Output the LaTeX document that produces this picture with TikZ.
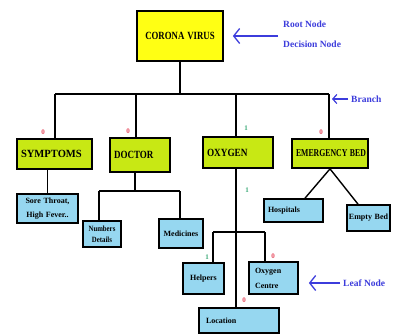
\documentclass[tikz,border=0pt]{standalone}
\usepackage{fontspec}
\setmainfont{Liberation Serif}
\usetikzlibrary{arrows.meta}
\definecolor{rootfill}{RGB}{255,255,20}
\definecolor{lvfill}{RGB}{200,232,20}
\definecolor{leaffill}{RGB}{150,215,240}
\definecolor{annblue}{RGB}{60,60,220}
\definecolor{zred}{RGB}{230,70,90}
\definecolor{ogreen}{RGB}{60,170,120}
\newcommand{\hs}[2]{\scalebox{#1}[1]{#2}}
\tikzset{
  boxbase/.style={draw=black, line width=1.7pt, inner ysep=0pt, font=\bfseries},
  rootbox/.style={boxbase, fill=rootfill, font=\bfseries\fontsize{11}{13}\selectfont, align=center},
  lvbox/.style={boxbase, fill=lvfill, font=\bfseries\fontsize{11}{13}\selectfont, align=left, inner xsep=4pt},
  leafbox/.style={boxbase, fill=leaffill, font=\bfseries\fontsize{8}{10}\selectfont},
  conn/.style={line width=1.4pt, black},
  zlab/.style={text=zred, font=\bfseries\fontsize{7}{8}\selectfont, inner sep=0pt},
  olab/.style={text=ogreen, font=\bfseries\fontsize{7}{8}\selectfont, inner sep=0pt},
  anntext/.style={text=annblue, font=\bfseries\fontsize{9.5}{11}\selectfont, inner sep=0pt, anchor=west},
  annarrow/.style={draw=annblue, line width=1.3pt, -{Straight Barb[length=6pt,width=15pt]}},
  annarrowsmall/.style={draw=annblue, line width=1.2pt, -{Straight Barb[length=4pt,width=9pt]}}
}
\begin{document}
\begin{tikzpicture}[x=1pt,y=-1pt]
\useasboundingbox (0,0) rectangle (395,335);
\fill[white] (0,0) rectangle (395,335);

% root
\node[rootbox, minimum width=86pt, minimum height=50pt, text width=78pt] (root) at (180,36) {\hs{0.8}{CORONA VIRUS}};

% level 1
\node[lvbox, minimum width=75pt, minimum height=30pt, text width=67pt] (sym) at (54.5,154) {\hs{0.96}{SYMPTOMS}};
\node[lvbox, minimum width=60pt, minimum height=34pt, text width=52pt] (doc) at (140,155) {\hs{0.82}{DOCTOR}};
\node[lvbox, minimum width=70pt, minimum height=31pt, text width=62pt] (oxy) at (238,152.5) {\hs{0.84}{OXYGEN}};
\node[lvbox, minimum width=76pt, minimum height=29pt, text width=68pt, font=\bfseries\fontsize{10.5}{12}\selectfont] (emg) at (330,153.5) {\hs{0.74}{EMERGENCY BED}};

% leaves
\node[leafbox, minimum width=59pt, minimum height=29pt, text width=55pt, align=center, font=\bfseries\fontsize{8}{14}\selectfont] (sore) at (47.5,208.5) {Sore Throat,\\High Fever..};
\node[leafbox, minimum width=38pt, minimum height=26pt, text width=36pt, inner xsep=1pt, align=center, font=\bfseries\fontsize{8}{11}\selectfont] (num) at (102,234) {\hs{0.85}{Numbers}\\\hs{0.85}{Details}};
\node[leafbox, minimum width=44pt, minimum height=29pt, text width=42pt, inner xsep=1pt, align=center] (med) at (181,233.5) {Medicines};
\node[leafbox, minimum width=59pt, minimum height=23pt, text width=51pt, inner xsep=4pt, align=left] (hosp) at (293.5,210.5) {Hospitals};
\node[leafbox, minimum width=43pt, minimum height=26pt, text width=41pt, inner xsep=1pt, align=center] (empty) at (368.5,218) {Empty Bed};
\node[leafbox, minimum width=41pt, minimum height=31pt, text width=39pt, inner xsep=1pt, align=center] (help) at (203.5,278.5) {Helpers};
\node[leafbox, minimum width=49pt, minimum height=32pt, text width=37pt, inner xsep=6pt, align=left, font=\bfseries\fontsize{8}{15}\selectfont] (ocen) at (273.5,278) {Oxygen\\Centre};
\node[leafbox, minimum width=80pt, minimum height=25pt, text width=66pt, inner xsep=7pt, align=left] (loc) at (239,320.5) {Location};

% bus coordinates
\coordinate (b1) at (55,94);
\coordinate (b2) at (136,94);
\coordinate (b3) at (236,94);
\coordinate (b4) at (329,94);
\draw[conn] (root.south) -- (root.south|-b1);
\draw[conn] (b1) -- (b4);
\draw[conn] (b1) -- (b1|-sym.north);
\draw[conn] (b2) -- (b2|-doc.north);
\draw[conn] (b3) -- (b3|-oxy.north);
\draw[conn] (b4) -- (b4|-emg.north);

% symptoms
\draw[conn] (sym.south-|sore.north) -- (sore.north);

% doctor
\coordinate (dj) at (135,191);
\coordinate (d1) at (99,191);
\coordinate (d2) at (180,191);
\draw[conn] (dj|-doc.south) -- (dj);
\draw[conn] (d1) -- (d2);
\draw[conn] (d1) -- (d1|-num.north);
\draw[conn] (d2) -- (d2|-med.north);

% oxygen
\coordinate (h1) at (213,232);
\coordinate (h2) at (265,232);
\draw[conn] (b3|-oxy.south) -- (b3|-loc.north);
\draw[conn] (h1) -- (h2);
\draw[conn] (h1) -- (h1|-help.north);
\draw[conn] (h2) -- (h2|-ocen.north);

% emergency
\coordinate (e1) at (305,0);
\coordinate (e2) at (358,0);
\draw[conn] (emg.south) -- (e1|-hosp.north);
\draw[conn] (emg.south) -- (e2|-empty.north);

% small labels
\node[zlab] (l1) at (43,132) {0};
\node[zlab] (l2) at (128,131) {0};
\node[olab] (l3) at (246,128) {1};
\node[zlab] (l4) at (321,132) {0};
\node[olab] (l5) at (247,190) {1};
\node[olab] (l6) at (207,257) {1};
\node[zlab] (l7) at (273,256) {0};
\node[zlab] (l8) at (244,300) {0};

% annotations
\node[anntext] (rn) at (283,24) {Root Node};
\node[anntext] (dn) at (283,44) {Decision Node};
\coordinate (ra) at (278,36);
\draw[annarrow] (ra) -- ([xshift=9pt]root.east|-ra);
\node[anntext] (br) at (351,99) {Branch};
\coordinate (ba) at (348,99);
\draw[annarrowsmall] (ba) -- (332,99);
\node[anntext] (ln) at (343,283) {Leaf Node};
\coordinate (la) at (340,283);
\draw[annarrow] (la) -- ([xshift=10pt]ocen.east|-la);
\end{tikzpicture}
\end{document}
